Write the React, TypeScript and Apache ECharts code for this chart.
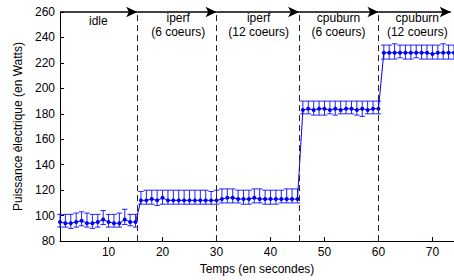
import React, { useEffect, useRef } from "react";
import * as echarts from "echarts";

const times = [
  1, 2, 3, 4, 5, 6, 7, 8, 9, 10, 11, 12, 13, 14, 15,
  16, 17, 18, 19, 20, 21, 22, 23, 24, 25, 26, 27, 28, 29, 30,
  31, 32, 33, 34, 35, 36, 37, 38, 39, 40, 41, 42, 43, 44, 45,
  46, 47, 48, 49, 50, 51, 52, 53, 54, 55, 56, 57, 58, 59, 60,
  61, 62, 63, 64, 65, 66, 67, 68, 69, 70, 71, 72, 73, 74, 75,
];
const meanPower = [
  95, 94, 94, 95, 96, 94, 94, 95, 97, 95, 94, 94, 97, 95, 95,
  112, 112, 113, 112, 114, 112, 112, 112, 112, 112, 112, 112, 112, 112, 112,
  113, 114, 114, 113, 113, 113, 114, 113, 113, 113, 113, 113, 113, 113, 113,
  183, 184, 183, 184, 184, 183, 184, 183, 184, 184, 183, 184, 183, 184, 184,
  228, 228, 228, 228, 228, 228, 228, 228, 228, 227, 228, 228, 228, 228, 228,
];
const highPower = [
  101, 101, 101, 102, 103, 102, 101, 101, 104, 101, 101, 102, 105, 101, 101,
  119, 120, 120, 120, 120, 120, 120, 120, 120, 120, 120, 120, 120, 119, 120,
  121, 121, 121, 120, 120, 120, 121, 121, 120, 120, 120, 120, 121, 121, 121,
  190, 190, 190, 190, 190, 190, 190, 190, 190, 190, 190, 190, 190, 190, 190,
  234, 234, 235, 234, 234, 234, 234, 234, 234, 234, 234, 235, 234, 234, 234,
];
const lowPower = [
  91, 91, 90, 91, 92, 91, 90, 91, 93, 91, 91, 91, 93, 92, 91,
  109, 109, 109, 108, 109, 109, 109, 109, 109, 109, 109, 109, 109, 109, 109,
  110, 110, 110, 110, 109, 109, 110, 110, 109, 109, 109, 110, 110, 110, 110,
  180, 180, 179, 179, 179, 180, 179, 180, 180, 180, 179, 178, 180, 180, 180,
  223, 223, 223, 224, 223, 223, 224, 223, 223, 223, 223, 223, 223, 223, 223,
];

const phaseBounds = [1, 15.3, 30, 45.3, 60, 73.4];
const phaseLabels = ["idle", "iperf\n(6 coeurs)", "iperf\n(12 coeurs)", "cpuburn\n(6 coeurs)", "cpuburn\n(12 coeurs)"];
const labelCenters = [8.1, 22.9, 37.8, 52.6, 67.2];
const xTicks = [10, 20, 30, 40, 50, 60, 70];
const yMin = 80;
const yMax = 260;

const FONT = "Liberation Sans, Arial, Helvetica, sans-serif";

export default function App() {
  const ref = useRef<HTMLDivElement>(null);
  useEffect(() => {
    document.body.style.margin = "0";
    if (!ref.current) return;
    const chart = echarts.init(ref.current, null, { renderer: "svg" });

    const lineData = times.map((t, i) => [t, meanPower[i]]);
    const errData = times.map((t, i) => [t, lowPower[i], highPower[i]]);

    const dividers = phaseBounds.slice(1, 5).map((x) => [
      {
        coord: [x, yMin],
        symbol: "none",
        lineStyle: { color: "#222", width: 1, type: [6, 4] },
      },
      { coord: [x, yMax], symbol: "none" },
    ]);
    const arrows = phaseBounds.slice(0, 5).map((x, i) => [
      {
        coord: [x, yMax],
        symbol: "none",
        lineStyle: { color: "#000", width: 1.6, type: "solid" },
      },
      { coord: [phaseBounds[i + 1], yMax], symbol: "arrow", symbolSize: [8, 11] },
    ]);
    const labelPoints = phaseLabels.map((name, i) => ({
      coord: [labelCenters[i], yMax],
      value: name,
      label: i === 0 ? { distance: 1 } : undefined,
    }));

    chart.setOption({
      animation: false,
      grid: { left: 60, right: -2, top: 12, bottom: 38 },
      xAxis: {
        type: "value",
        min: 1,
        max: 74,
        name: "Temps (en secondes)",
        nameLocation: "middle",
        nameGap: 20,
        nameTextStyle: { color: "#000", fontSize: 12, fontFamily: FONT },
        axisLine: { lineStyle: { color: "#000", width: 1 } },
        axisTick: { inside: true, length: 4, customValues: xTicks, lineStyle: { color: "#000" } },
        axisLabel: { customValues: xTicks, color: "#000", fontSize: 12, fontFamily: FONT, margin: 5 },
        splitLine: { show: false },
      },
      yAxis: {
        type: "value",
        min: yMin,
        max: yMax,
        interval: 20,
        name: "Puissance électrique (en Watts)",
        nameLocation: "middle",
        nameGap: 28,
        nameTextStyle: { color: "#000", fontSize: 12, fontFamily: FONT },
        axisLine: { show: true, lineStyle: { color: "#000", width: 1 } },
        axisTick: { show: true, inside: true, length: 4, lineStyle: { color: "#000" } },
        axisLabel: { color: "#000", fontSize: 12, fontFamily: FONT, margin: 5 },
        splitLine: { show: false },
      },
      series: [
        {
          type: "custom",
          name: "err",
          silent: true,
          encode: { x: 0, y: [1, 2] },
          data: errData,
          renderItem: (params: any, api: any) => {
            const x = api.value(0);
            const lo = api.coord([x, api.value(1)]);
            const hi = api.coord([x, api.value(2)]);
            const w = 2.7;
            const st = { stroke: "#1f1fff", lineWidth: 1 };
            return {
              type: "group",
              children: [
                { type: "line", shape: { x1: lo[0], y1: lo[1], x2: hi[0], y2: hi[1] }, style: st },
                { type: "line", shape: { x1: lo[0] - w, y1: lo[1], x2: lo[0] + w, y2: lo[1] }, style: st },
                { type: "line", shape: { x1: hi[0] - w, y1: hi[1], x2: hi[0] + w, y2: hi[1] }, style: st },
              ],
            };
          },
          z: 2,
        },
        {
          type: "line",
          name: "mean",
          data: lineData,
          symbol: "circle",
          symbolSize: 4,
          itemStyle: { color: "#0000ff" },
          lineStyle: { color: "#0000ff", width: 1 },
          silent: true,
          z: 3,
          markLine: {
            silent: true,
            animation: false,
            label: { show: false },
            emphasis: { disabled: true },
            symbol: ["none", "none"],
            data: [...dividers, ...arrows],
          },
          markPoint: {
            silent: true,
            symbol: "rect",
            symbolSize: 1,
            itemStyle: { color: "rgba(0,0,0,0)" },
            label: {
              show: true,
              position: "bottom",
              distance: -1.5,
              color: "#000",
              fontSize: 12,
              lineHeight: 14,
              fontFamily: FONT,
              align: "center",
              formatter: (p: any) => p.value,
            },
            data: labelPoints,
          },
        },
      ],
    });
    return () => chart.dispose();
  }, []);
  return <div ref={ref} style={{ width: 454, height: 280 }} />;
}
